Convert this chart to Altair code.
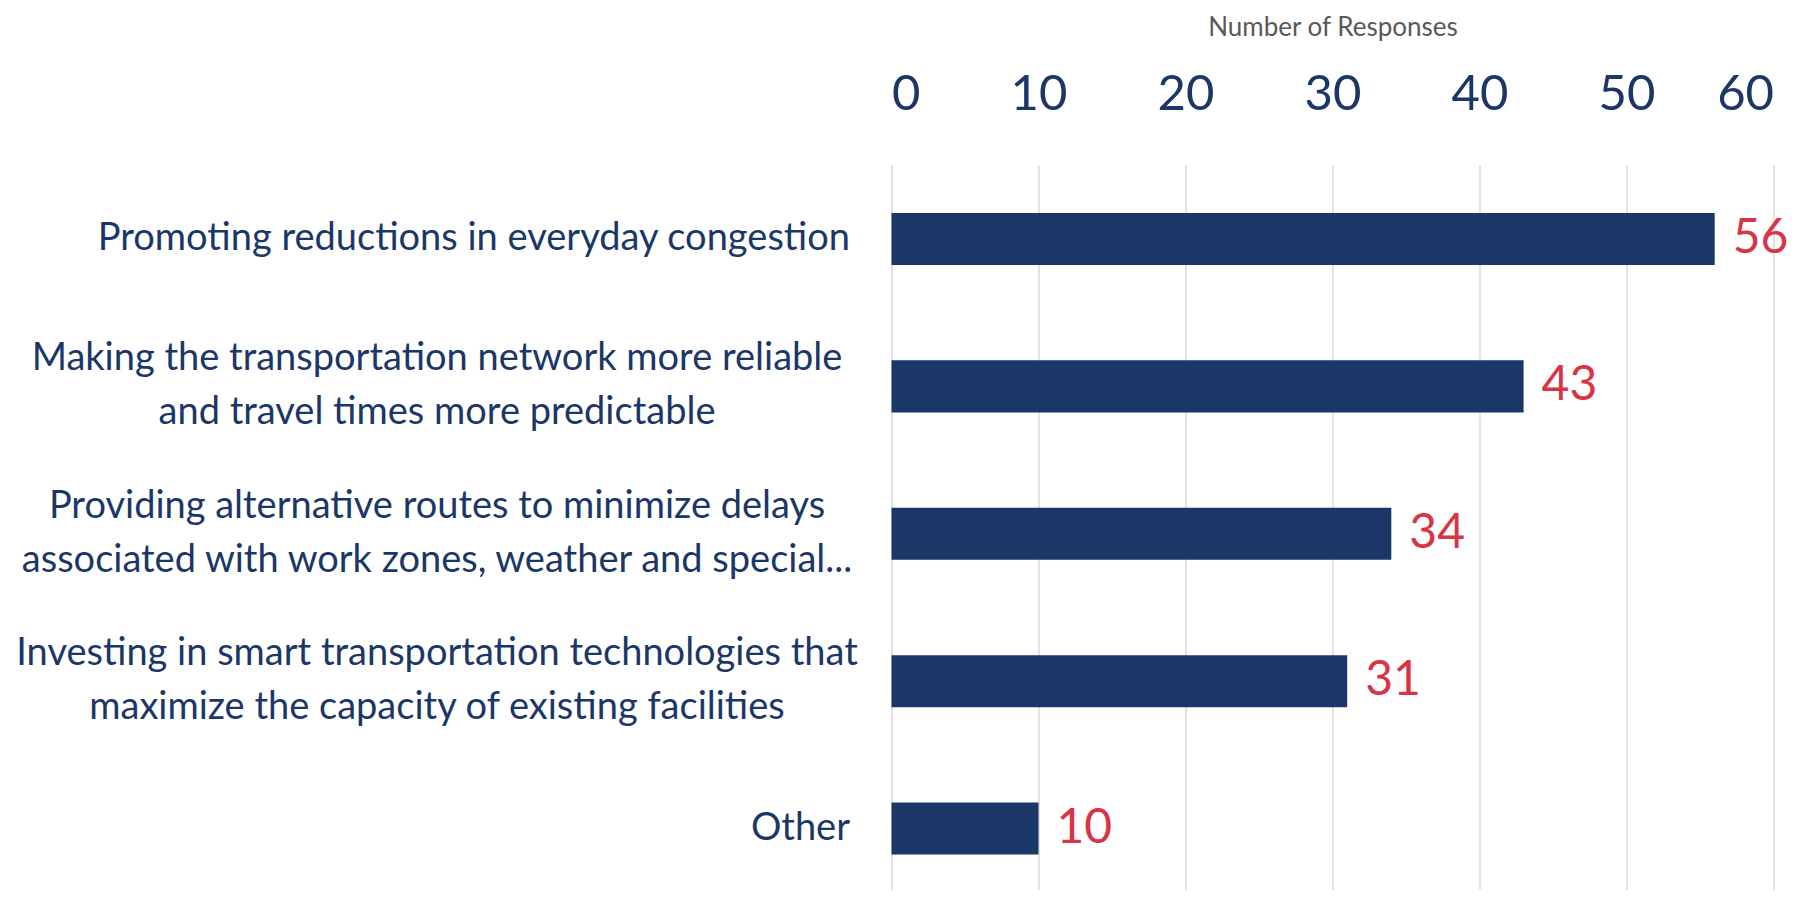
import altair as alt
import pandas as pd

categories = [
    "Promoting reductions in everyday congestion",
    "Making the transportation network more reliable|and travel times more predictable",
    "Providing alternative routes to minimize delays|associated with work zones, weather and special...",
    "Investing in smart transportation technologies that|maximize the capacity of existing facilities",
    "Other",
]
values = [56, 43, 34, 31, 10]
x_ticks = [0, 10, 20, 30, 40, 50, 60]

NAVY = "#1b3768"
RED = "#d93446"
FONT = "Lato"

df = pd.DataFrame({"category": categories, "value": values})

y_scale = alt.Scale(paddingInner=0.647, paddingOuter=0.283, align=0.575)

common_axis = dict(
    title=None,
    orient="left",
    domain=False,
    ticks=False,
    tickSize=0,
    grid=False,
    labelFont=FONT,
    labelFontSize=38,
    labelColor=NAVY,
    labelLimit=1000,
    labelLineHeight=54,
)

# single-line labels: right-aligned next to the axis
y_single = alt.Y(
    "category:N",
    sort=categories,
    scale=y_scale,
    axis=alt.Axis(
        labelExpr="indexof(datum.label, '|') >= 0 ? '' : datum.label",
        labelPadding=42,
        labelAlign="right",
        **common_axis,
    ),
)

# two-line labels: lines centred on each other
y_multi = alt.Y(
    "category:N",
    sort=categories,
    scale=y_scale,
    axis=alt.Axis(
        labelExpr="indexof(datum.label, '|') >= 0 ? split(datum.label, '|') : ''",
        labelPadding=455,
        labelAlign="center",
        labelOffset=-27,
        **common_axis,
    ),
)

x_enc = alt.X(
    "value:Q",
    scale=alt.Scale(domain=[0, 60], nice=False, zero=True),
    axis=alt.Axis(
        orient="top",
        title="Number of Responses",
        titleFont=FONT,
        titleFontSize=26,
        titleFontWeight="normal",
        titleColor="#595959",
        titlePadding=30,
        values=x_ticks,
        labelFont=FONT,
        labelFontSize=49,
        labelColor=NAVY,
        labelPadding=46,
        domain=False,
        ticks=False,
        tickSize=0,
        grid=True,
        gridColor="#d9d9d9",
        gridWidth=1.5,
    ),
)

bars = alt.Chart(df).mark_bar(color=NAVY).encode(x=x_enc, y=y_single)

labels = alt.Chart(df).mark_text(
    align="left", baseline="middle", dx=18, fontSize=48, font=FONT, color=RED
).encode(
    x=alt.X("value:Q"),
    y=y_multi,
    text=alt.Text("value:Q"),
)

chart = (
    alt.layer(bars, labels)
    .resolve_axis(y="independent")
    .properties(
        width=882,
        height=725,
        autosize=alt.AutoSizeParams(type="none"),
        padding={"left": 883.5, "top": 157, "right": 20, "bottom": 0},
    )
    .configure_view(stroke=None)
)

chart.save("out.html", embed_options={"renderer": "svg", "actions": False})
